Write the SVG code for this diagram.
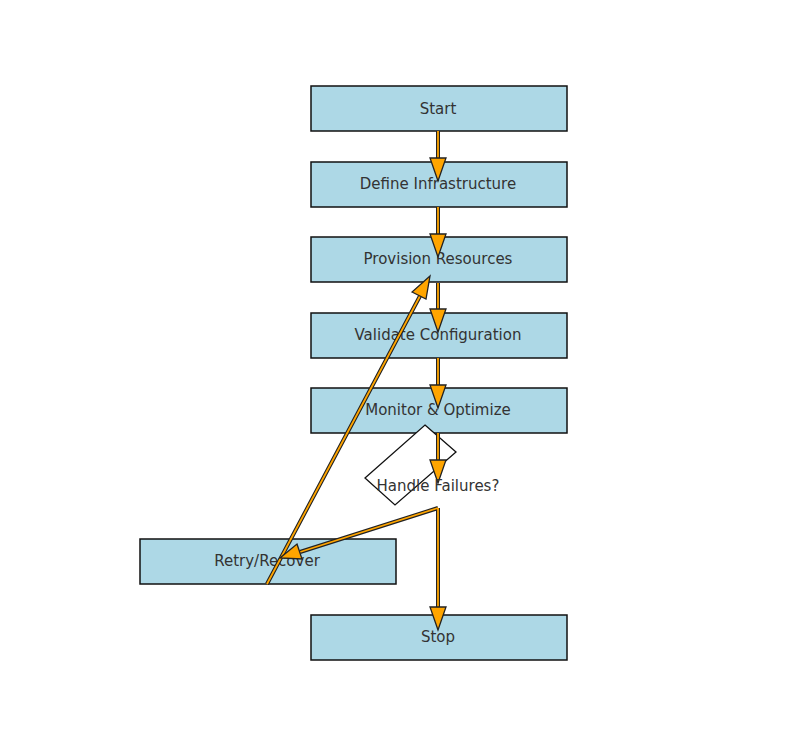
<svg xmlns="http://www.w3.org/2000/svg" width="787" height="740" viewBox="0 0 787 740">
<style>
.n{fill:#add8e6;stroke:#111;stroke-width:1.5}
.t{font-family:"DejaVu Sans",sans-serif;font-size:15px;fill:#333;text-anchor:middle;dominant-baseline:central}
.o{stroke:#222;stroke-width:4;fill:none}
.i{stroke:#ffa500;stroke-width:1.8;fill:none}
.h{fill:#ffa500;stroke:#222;stroke-width:1.3}
</style>
<rect width="787" height="740" fill="#fff"/>
<g id="n-start"><rect class="n" x="311" y="86" width="256" height="45"/><text class="t" x="438" y="109">Start</text></g>
<g id="n-define"><rect class="n" x="311" y="162" width="256" height="45"/><text class="t" x="438" y="184">Define Infrastructure</text></g>
<g id="n-prov"><rect class="n" x="311" y="237" width="256" height="45"/><text class="t" x="438" y="259">Provision Resources</text></g>
<g id="n-val"><rect class="n" x="311" y="313" width="256" height="45"/><text class="t" x="438" y="335">Validate Configuration</text></g>
<g id="n-mon"><rect class="n" x="311" y="388" width="256" height="45"/><text class="t" x="438" y="410">Monitor &amp; Optimize</text></g>
<g id="n-dec"><polygon points="425,425 456,452 395,505 365,478" fill="#fff" stroke="#111" stroke-width="1.3"/></g>
<g id="n-retry"><rect class="n" x="140" y="539" width="256" height="45"/><text class="t" x="267" y="561">Retry/Recover</text></g>
<g id="n-stop"><rect class="n" x="311" y="615" width="256" height="45"/><text class="t" x="438" y="637">Stop</text></g>
<g id="connectors">
<path class="o" d="M438,131V160M438,207V236M438,283V311M438,358V386M438,433V461M438,508V608M438,508L300,552M267,584L420,296"/>
<path class="i" d="M438,131V160M438,207V236M438,283V311M438,358V386M438,433V461M438,508V608M438,508L300,552M267,584L420,296"/>
<polygon class="h" points="430,158 446,158 438,181"/>
<polygon class="h" points="430,234 446,234 438,257"/>
<polygon class="h" points="430,309 446,309 438,332"/>
<polygon class="h" points="430,385 446,385 438,408"/>
<polygon class="h" points="430,460 446,460 438,483"/>
<polygon class="h" points="430,607 446,607 438,630"/>
<polygon class="h" points="297,544 302,559 280,558"/>
<polygon class="h" points="412,292 426,299 430,276"/>
</g>
<text class="t" x="438" y="486">Handle Failures?</text>
</svg>
